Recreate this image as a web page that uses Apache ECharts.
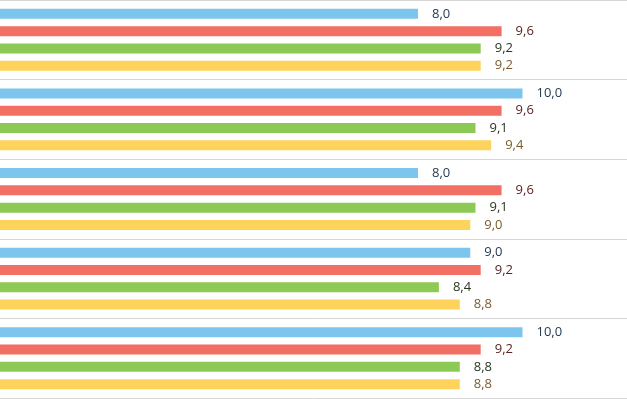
<!DOCTYPE html>
<html>
<head>
<meta charset="utf-8">
<script src="https://cdn.jsdelivr.net/npm/echarts@6/dist/echarts.min.js"></script>
<style>
  html, body { margin: 0; padding: 0; background: #fff; }
  #chart { width: 627px; height: 399px; }
</style>
</head>
<body>
<div id="chart"></div>
<script>
const categories = ["1", "2", "3", "4", "5"];
const blueValues = [8.0, 10.0, 8.0, 9.0, 10.0];
const redValues = [9.6, 9.6, 9.6, 9.2, 9.2];
const greenValues = [9.2, 9.1, 9.1, 8.4, 8.8];
const yellowValues = [9.2, 9.4, 9.0, 8.8, 8.8];

const myChart = echarts.init(document.getElementById("chart"));

function makeSeries(name, data, color, labelColor) {
  return {
    name: name,
    type: "bar",
    data: data,
    barWidth: 10,
    barGap: "73%",
    itemStyle: { color: color },
    label: {
      show: true,
      position: "right",
      distance: 14,
      color: labelColor,
      fontSize: 13,
      fontFamily: "Open Sans",
      formatter: (p) => p.value.toFixed(1).replace(".", ","),
    },
  };
}

const option = {
  animation: false,
  grid: { left: 0, right: 0, top: 0, bottom: 1 },
  xAxis: {
    type: "value",
    min: 0,
    max: 12,
    show: false,
  },
  yAxis: {
    type: "category",
    data: categories,
    inverse: true,
    axisLabel: { show: false },
    axisTick: { show: false },
    axisLine: { show: false },
    splitLine: { show: true, lineStyle: { color: "#d6d6d6", width: 1 } },
  },
  series: [
    makeSeries("a", blueValues, "#7cc6ee", "#253a55"),
    makeSeries("b", redValues, "#f26f63", "#5a2424"),
    makeSeries("c", greenValues, "#8dc955", "#27381f"),
    makeSeries("d", yellowValues, "#fdd35c", "#7a5c2c"),
  ],
};

myChart.setOption(option);
</script>
</body>
</html>
